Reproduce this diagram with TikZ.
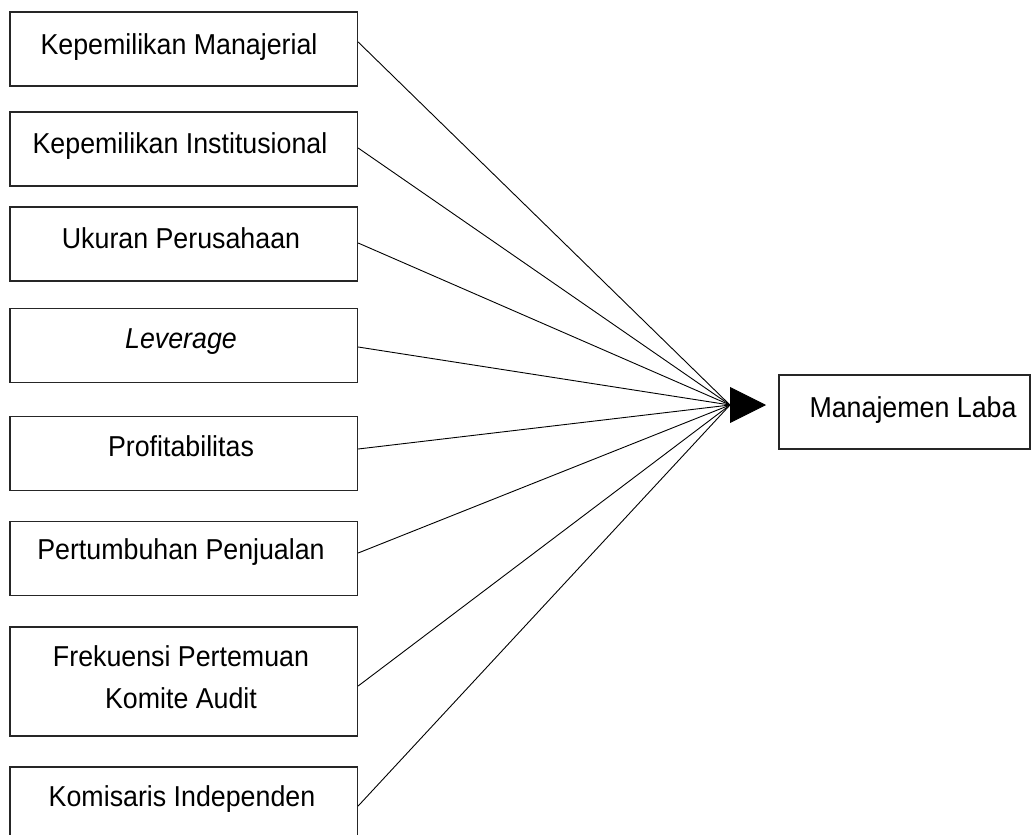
\documentclass[tikz,border=0pt]{standalone}
\usepackage{fontspec}
\setmainfont{Liberation Sans}[FakeStretch=0.93]
\usetikzlibrary{arrows.meta,calc}
\begin{document}
\begin{tikzpicture}[x=1pt,y=-1pt,
  box/.style={draw=black!85,line width=1.3pt,minimum width=347.5pt,minimum height=74pt,inner sep=0pt},
  lbl/.style={anchor=base,inner sep=0pt,font=\fontsize{28.8pt}{42pt}\selectfont},
  conn/.style={draw=black,line width=0.9pt}]
\clip (0,0) rectangle (1036,835);
\fill[white] (0,0) rectangle (1036,835);
% left boxes
\node[box] (b1) at (183.75,49) {};
\node[box] (b2) at (183.75,149) {};
\node[box] (b3) at (183.75,244) {};
\node[box] (b4) at (183.75,345.5) {};
\node[box] (b5) at (183.75,453.5) {};
\node[box] (b6) at (183.75,558.5) {};
\node[box,minimum height=109pt] (b7) at (183.75,681.5) {};
\node[box,minimum height=78pt] (b8) at (183.75,806) {};
% right box
\node[box,minimum width=251pt] (out) at (904.5,412) {};
% texts
\node[lbl] (t1) at (179,54) {Kepemilikan Manajerial};
\node[lbl] (t2) at (180,153) {Kepemilikan Institusional};
\node[lbl] (t3) at (181,248) {Ukuran Perusahaan};
\node[lbl] (t4) at (181,348) {\itshape Leverage};
\node[lbl] (t5) at (181,456) {Profitabilitas};
\node[lbl] (t6) at (181,559) {Pertumbuhan Penjualan};
\node[anchor=north,inner sep=0pt,align=center,font=\fontsize{28.8pt}{42pt}\selectfont] (t7) at (181,645) {Frekuensi Pertemuan\\Komite Audit};
\node[lbl] (t8) at (182,806) {Komisaris Independen};
\node[lbl] (tout) at (913,417) {Manajemen Laba};
% convergence
\coordinate (c) at (730,405);
\coordinate (tip) at (766,405);
\draw[conn] ([yshift=7pt]b1.east) -- (c);
\draw[conn] ([yshift=1pt]b2.east) -- (c);
\draw[conn] ([yshift=1pt]b3.east) -- (c);
\draw[conn] ([yshift=-1.5pt]b4.east) -- (c);
\draw[conn] ([yshift=4.5pt]b5.east) -- (c);
\draw[conn] ([yshift=5.5pt]b6.east) -- (c);
\draw[conn] ([yshift=-4.5pt]b7.east) -- (c);
\draw[conn] (b8.east) -- (c);
\draw[line width=0.9pt,-{Triangle[length=36pt,width=36pt]}] (c) -- (tip);
\end{tikzpicture}
\end{document}
